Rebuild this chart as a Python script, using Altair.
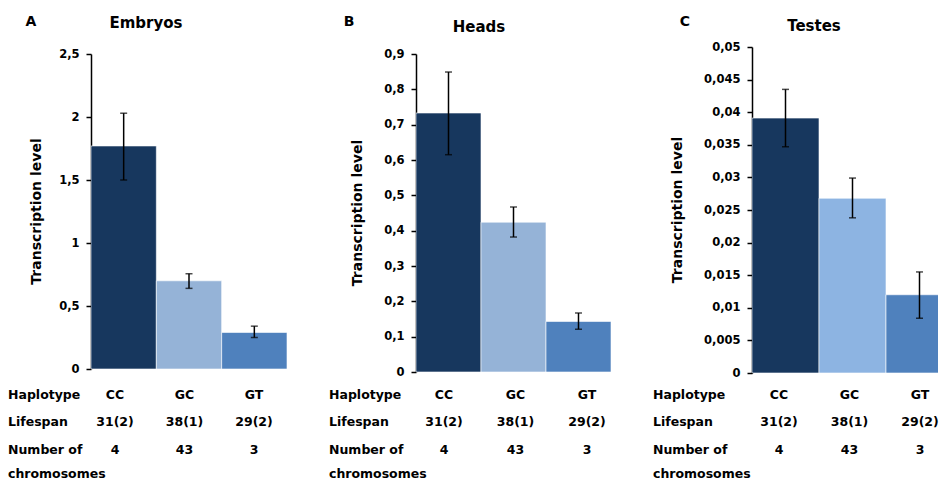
import altair as alt
import pandas as pd

FONT = "DejaVu Sans"

haplotypes = ["CC", "GC", "GT"]
lifespan = ["31(2)", "38(1)", "29(2)"]
chromosomes = ["4", "43", "3"]
row_keys = ["Haplotype", "Lifespan", "Number"]
row_labels = ["Haplotype", "Lifespan", "Number of\nchromosomes"]

embryos_mean = [1.77, 0.70, 0.29]
embryos_low = [1.50, 0.64, 0.25]
embryos_high = [2.03, 0.756, 0.34]
embryos_ticks = [0, 0.5, 1, 1.5, 2, 2.5]

heads_mean = [0.733, 0.424, 0.143]
heads_low = [0.615, 0.382, 0.121]
heads_high = [0.849, 0.467, 0.167]
heads_ticks = [0, 0.1, 0.2, 0.3, 0.4, 0.5, 0.6, 0.7, 0.8, 0.9]

testes_mean = [0.0391, 0.0268, 0.0120]
testes_low = [0.0347, 0.0238, 0.0084]
testes_high = [0.0435, 0.0299, 0.0155]
testes_ticks = [0, 0.005, 0.01, 0.015, 0.02, 0.025, 0.03, 0.035, 0.04, 0.045, 0.05]

colors_ab = ["#17375E", "#95B3D7", "#4F81BD"]
colors_c = ["#17375E", "#8DB4E2", "#4F81BD"]


def panel(letter, name, mean, low, high, colors, ticks, width, band_span, yrange,
          letter_x, title_x, title_y, ytitle_x, label_x, table_range):
    df = pd.DataFrame({"Haplotype": haplotypes, "Mean": mean, "Low": low, "High": high})
    x = alt.X("Haplotype:N", sort=haplotypes, axis=None,
              scale=alt.Scale(paddingInner=0, paddingOuter=0, range=[0, band_span]))
    yscale = alt.Scale(domain=[0, ticks[-1]], range=yrange, nice=False, zero=True)
    yaxis = alt.Axis(values=ticks,
                     labelExpr="replace(format(datum.value, '~g'), '.', ',')",
                     title=None, grid=False, domainColor="black", domainWidth=1.5,
                     tickColor="black", tickWidth=1.5, tickSize=5, labelPadding=7,
                     labelFont=FONT, labelFontSize=11.5, labelFontWeight="bold",
                     labelColor="black")
    base = alt.Chart(df)
    bars = base.mark_bar(stroke="white", strokeWidth=0.6, clip=True).encode(
        x=x,
        y=alt.Y("Mean:Q", scale=yscale, axis=yaxis),
        color=alt.Color("Haplotype:N", scale=alt.Scale(domain=haplotypes, range=colors), legend=None),
    )
    err = base.mark_rule(color="black", strokeWidth=1.5, clip=True).encode(
        x=x, y=alt.Y("Low:Q", scale=yscale, axis=yaxis), y2="High:Q")
    cap_lo = base.mark_tick(color="black", thickness=1.5, size=7, clip=True).encode(
        x=x, y=alt.Y("Low:Q", scale=yscale, axis=yaxis))
    cap_hi = base.mark_tick(color="black", thickness=1.5, size=7, clip=True).encode(
        x=x, y=alt.Y("High:Q", scale=yscale, axis=yaxis))
    plot = alt.layer(bars, err, cap_lo, cap_hi)

    rows_y = alt.Scale(type="point", domain=row_keys, range=[352, 406.5], padding=0)
    table_df = pd.DataFrame({
        "Haplotype": haplotypes * 3,
        "Row": ["Haplotype"] * 3 + ["Lifespan"] * 3 + ["Number"] * 3,
        "Text": haplotypes + lifespan + chromosomes,
    })
    table = alt.Chart(table_df).mark_text(
        font=FONT, fontSize=12.5, fontWeight="bold", baseline="alphabetic",
        align="center", color="black").encode(
        x=alt.X("Haplotype:N", sort=haplotypes, axis=None,
                scale=alt.Scale(type="point", domain=haplotypes, range=table_range, padding=0)),
        y=alt.Y("Row:N", axis=None, scale=rows_y),
        text="Text:N",
    )
    row_df = pd.DataFrame({"Row": row_keys, "Label": row_labels})
    labels = alt.Chart(row_df).mark_text(
        font=FONT, fontSize=12.5, fontWeight="bold", baseline="alphabetic",
        align="left", color="black", lineBreak="\n", lineHeight=24).encode(
        x=alt.value(label_x),
        y=alt.Y("Row:N", axis=None, scale=rows_y),
        text="Label:N",
    )
    one = pd.DataFrame({"k": [0]})
    title = alt.Chart(one).mark_text(
        text=name, font=FONT, fontSize=15, fontWeight="bold", color="black",
        align="center", baseline="middle").encode(
        x=alt.value(title_x), y=alt.value(title_y))
    let = alt.Chart(one).mark_text(
        text=letter, font=FONT, fontSize=14, fontWeight="bold", color="black",
        align="center", baseline="middle").encode(
        x=alt.value(letter_x), y=alt.value(-25))
    ytitle = alt.Chart(one).mark_text(
        text="Transcription level", font=FONT, fontSize=14, fontWeight="bold",
        color="black", align="center", baseline="middle", angle=270).encode(
        x=alt.value(ytitle_x), y=alt.value((yrange[0] + yrange[1]) / 2))
    return alt.layer(plot, table, labels, title, let, ytitle).resolve_scale(
        x="independent", y="independent", color="independent"
    ).properties(width=width, height=326)


pa = panel("A", "Embryos", embryos_mean, embryos_low, embryos_high, colors_ab,
           embryos_ticks, 196, 196, [322, 7], -60, 55, -24, -54, -83, [24, 163])
pb = panel("B", "Heads", heads_mean, heads_low, heads_high, colors_ab,
           heads_ticks, 195, 195, [325, 7], -67, 63, -20, -58, -87, [28, 171])
pc = panel("C", "Testes", testes_mean, testes_low, testes_high, colors_c,
           testes_ticks, 186, 201, [326, 0], -67, 62, -21, -74, -99, [27, 168])

chart = alt.hconcat(pa, pb, pc, spacing=42).properties(
    padding={"left": 0, "top": 7, "right": 0, "bottom": 0}
).configure(font=FONT).configure_view(stroke=None)

chart.save("out.html", embed_options={"renderer": "svg", "actions": False})
